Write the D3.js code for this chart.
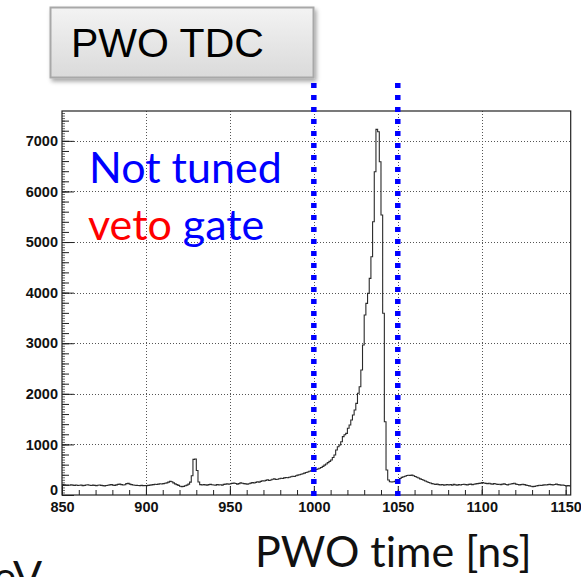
<!DOCTYPE html>
<html>
<head>
<meta charset="utf-8">
<script src="https://cdn.jsdelivr.net/npm/d3@7"></script>
<style>
  body { margin: 0; background: #fff; }
  svg { display: block; }
  text { font-variant-ligatures: none; }
</style>
</head>
<body>
<svg id="chart" width="581" height="577"></svg>
<script>
// PWO TDC time spectrum, 1 ns bins starting at 850 ns
const binStart = 850;
const binWidth = 1;
const counts = [
  // 850-899
  205, 200, 198, 195, 192, 200, 196, 190, 198, 188,
  192, 195, 186, 190, 198, 202, 194, 188, 196, 190,
  185, 192, 198, 190, 186, 180, 188, 194, 200, 205,
  196, 190, 200, 210, 215, 205, 198, 204, 224, 230,
  215, 205, 198, 192, 190, 188, 186, 190, 185, 188,
  // 900-949
  186, 190, 195, 200, 205, 212, 208, 215, 222, 218,
  225, 232, 240, 255, 270, 262, 240, 220, 205, 190,
  172, 165, 170, 182, 195, 215, 255, 380, 705, 712,
  485, 258, 205, 198, 205, 200, 196, 205, 210, 202,
  198, 195, 205, 200, 202, 196, 210, 215, 220, 212,
  // 950-999
  222, 230, 238, 228, 215, 225, 240, 232, 225, 220,
  215, 222, 235, 245, 238, 250, 262, 255, 270, 282,
  278, 290, 300, 288, 296, 310, 318, 305, 312, 320,
  330, 325, 338, 345, 340, 352, 360, 372, 365, 380,
  392, 400, 410, 420, 432, 445, 455, 468, 480, 490,
  // 1000-1049
  495, 505, 515, 528, 545, 565, 590, 612, 640, 665,
  692, 740, 790, 889, 955, 988, 1054, 1153, 1190, 1219,
  1318, 1383, 1482, 1581, 1680, 1812, 2010, 2140, 2470, 2964,
  3557, 3788, 3986, 4282, 4710, 5401, 6390, 7227, 7180, 6587,
  5534, 3591, 1449, 494, 296, 263, 258, 262, 270, 282,
  // 1050-1099
  300, 325, 348, 362, 372, 384, 390, 388, 392, 380,
  365, 350, 335, 318, 305, 292, 278, 262, 248, 236,
  225, 218, 210, 215, 205, 200, 208, 195, 200, 205,
  198, 205, 196, 210, 200, 195, 205, 198, 208, 212,
  205, 200, 210, 215, 205, 212, 220, 225, 230, 235,
  // 1100-1152
  245, 238, 230, 225, 232, 220, 215, 225, 218, 210,
  212, 205, 215, 220, 208, 200, 212, 218, 225, 232,
  215, 208, 200, 205, 212, 205, 195, 188, 180, 172,
  165, 170, 178, 185, 192, 188, 195, 200, 198, 205,
  210, 205, 198, 208, 215, 205, 200, 195, 198, 188,
  180, 185, 180
];

const xDomain = [850, 1153];
const yMax = 7590;
const xMajor = [850, 900, 950, 1000, 1050, 1100, 1150];
const yMajor = [0, 1000, 2000, 3000, 4000, 5000, 6000, 7000];
const gateEdges = [1000, 1050];

const titleText = "PWO TDC";
const noteLine1 = "Not tuned";
const noteVeto = "veto";
const noteGate = " gate";
const xTitle = "PWO time [ns]";
const cutText = "eV";

const frame = { left: 62, right: 570.7, top: 111, bottom: 495 };

const svg = d3.select("#chart");
const defs = svg.append("defs");

const x = d3.scaleLinear().domain(xDomain).range([frame.left, frame.right]);
const y = d3.scaleLinear().domain([0, yMax]).range([frame.bottom, frame.top]);

// ---- grid (dotted) ----
const grid = svg.append("g").attr("stroke", "#555").attr("stroke-width", 1)
  .attr("stroke-dasharray", "1,2").attr("fill", "none");
grid.selectAll("line.gx")
  .data(xMajor.filter(v => v > xDomain[0] && v < 1150))
  .join("line").attr("class", "gx")
  .attr("x1", d => Math.round(x(d)) + 0.5).attr("x2", d => Math.round(x(d)) + 0.5)
  .attr("y1", frame.top).attr("y2", frame.bottom);
grid.selectAll("line.gy")
  .data(yMajor.filter(v => v > 0))
  .join("line").attr("class", "gy")
  .attr("y1", d => Math.round(y(d)) + 0.5).attr("y2", d => Math.round(y(d)) + 0.5)
  .attr("x1", frame.left).attr("x2", frame.right);

// ---- axes ----
const tickFont = "bold 14.5px 'Liberation Sans', Arial, sans-serif";

// y: tertiary, minor, major ticks drawn inward
const yTert = d3.range(0, yMax, 50);
const yMinor = d3.range(0, yMax, 200);
const yAxisG = svg.append("g").attr("transform", `translate(${frame.left},0)`);
yAxisG.append("g").call(d3.axisLeft(y).tickValues(yTert).tickSize(-3).tickFormat(""))
  .call(g => g.select(".domain").remove())
  .call(g => g.selectAll("line").attr("stroke", "#666"));
yAxisG.append("g").call(d3.axisLeft(y).tickValues(yMinor).tickSize(-7).tickFormat(""))
  .call(g => g.select(".domain").remove())
  .call(g => g.selectAll("line").attr("stroke", "#222"));
yAxisG.append("g").call(d3.axisLeft(y).tickValues(yMajor).tickSize(-12).tickPadding(4).tickFormat(d3.format("d")))
  .call(g => g.select(".domain").remove())
  .call(g => g.selectAll("line").attr("stroke", "#222"))
  .call(g => g.selectAll("text").style("font", tickFont).attr("fill", "#111"))
  // the zero label sits a little above the corner so it clears the 850 label
  .call(g => g.selectAll(".tick").filter(d => d === 0).select("text").attr("dy", "-0.05em"));

// x: minor every 10 ns, major every 50 ns, pointing up into the frame
const xMinor = d3.range(850, 1151, 10);
const xAxisG = svg.append("g").attr("transform", `translate(0,${frame.bottom})`);
xAxisG.append("g").call(d3.axisBottom(x).tickValues(xMinor).tickSize(-5).tickFormat(""))
  .call(g => g.select(".domain").remove())
  .call(g => g.selectAll("line").attr("stroke", "#222"));
xAxisG.append("g").call(d3.axisBottom(x).tickValues(xMajor).tickSize(-9).tickPadding(7).tickFormat(d3.format("d")))
  .call(g => g.select(".domain").remove())
  .call(g => g.selectAll("line").attr("stroke", "#222"))
  .call(g => g.selectAll("text").style("font", tickFont).attr("fill", "#111").attr("dy", "0.71em"));

// ---- frame ----
svg.append("rect")
  .attr("x", frame.left).attr("y", frame.top)
  .attr("width", frame.right - frame.left).attr("height", frame.bottom - frame.top)
  .attr("fill", "none").attr("stroke", "#222").attr("stroke-width", 1.2);

// ---- histogram outline ----
const pts = counts.map((c, i) => [binStart + i * binWidth, c]);
pts.push([binStart + counts.length * binWidth, counts[counts.length - 1]]);
const line = d3.line().x(d => x(d[0])).y(d => y(d[1])).curve(d3.curveStepAfter);
svg.append("path").datum(pts)
  .attr("d", line).attr("fill", "none")
  .attr("stroke", "#2a2a2a").attr("stroke-width", 1.1);

// ---- veto gate edges ----
svg.selectAll("line.gate").data(gateEdges).join("line").attr("class", "gate")
  .attr("x1", d => x(d)).attr("x2", d => x(d))
  .attr("y1", 83).attr("y2", 498)
  .attr("stroke", "#0000ff").attr("stroke-width", 5.5)
  .attr("stroke-dasharray", "5,7");

// ---- annotation ----
const noteFont = "Lato, 'Open Sans', sans-serif";
svg.append("text").attr("x", 89).attr("y", 183)
  .attr("font-family", noteFont).attr("font-size", 43).attr("fill", "#0000ff")
  .text(noteLine1);
const t2 = svg.append("text").attr("x", 88).attr("y", 240)
  .attr("font-family", noteFont).attr("font-size", 43);
t2.append("tspan").attr("fill", "#ff0000").text(noteVeto);
t2.append("tspan").attr("fill", "#0000ff").attr("xml:space", "preserve").text(noteGate);

// ---- axis title below, and the tail of a neighbouring caption ----
svg.append("text").attr("x", 255).attr("y", 567)
  .attr("font-family", noteFont).attr("font-size", 43).attr("fill", "#111")
  .text(xTitle);
svg.append("text").attr("x", 42).attr("y", 592).attr("text-anchor", "end")
  .attr("font-family", noteFont).attr("font-size", 43).attr("fill", "#111")
  .text(cutText);

// ---- title box ----
const grad = defs.append("linearGradient").attr("id", "boxFill")
  .attr("x1", 0).attr("y1", 0).attr("x2", 0).attr("y2", 1);
grad.append("stop").attr("offset", "0%").attr("stop-color", "#f3f3f3");
grad.append("stop").attr("offset", "100%").attr("stop-color", "#dadada");
const shadow = defs.append("filter").attr("id", "boxShadow")
  .attr("x", "-10%").attr("y", "-10%").attr("width", "130%").attr("height", "140%");
shadow.append("feDropShadow").attr("dx", 2).attr("dy", 3).attr("stdDeviation", 2)
  .attr("flood-color", "#000").attr("flood-opacity", 0.35);
svg.append("rect").attr("x", 50.5).attr("y", 7.5).attr("width", 263).attr("height", 70)
  .attr("fill", "url(#boxFill)").attr("stroke", "#a8a8a8").attr("stroke-width", 2)
  .attr("filter", "url(#boxShadow)");
svg.append("text").attr("x", 71).attr("y", 57)
  .attr("font-family", "'Liberation Sans', Arial, sans-serif").attr("font-size", 41)
  .attr("fill", "#000").text(titleText);
</script>
</body>
</html>
